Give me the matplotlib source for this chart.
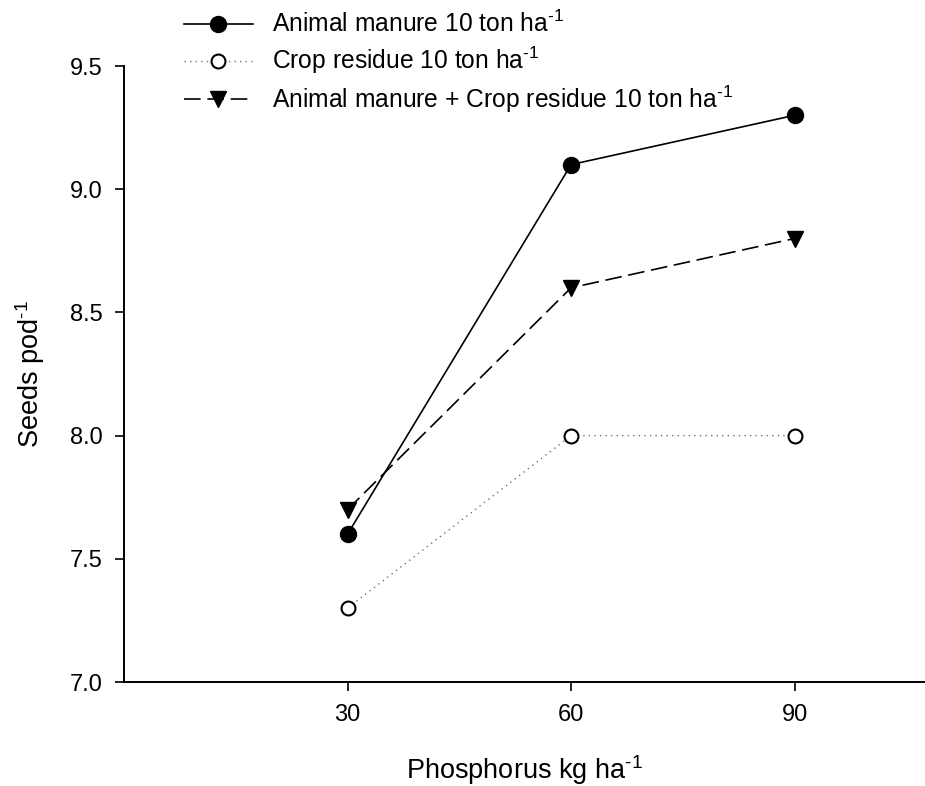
import matplotlib
matplotlib.use("Agg")
import matplotlib.pyplot as plt

plt.rcParams["font.family"] = ["Liberation Sans", "DejaVu Sans"]
plt.rcParams["mathtext.fontset"] = "custom"
plt.rcParams["mathtext.rm"] = "Liberation Sans"
plt.rcParams["mathtext.it"] = "Liberation Sans:italic"

# data
phosphorus = [30, 60, 90]
animal_manure = [7.6, 9.1, 9.3]
crop_residue = [7.3, 8.0, 8.0]
manure_plus_residue = [7.7, 8.6, 8.8]

sup = r"$^{\text{-1}}$"   # superscript with a plain hyphen, as in the original
labels = ["Animal manure 10 ton ha" + sup,
          "Crop residue 10 ton ha" + sup,
          "Animal manure + Crop residue 10 ton ha" + sup]

fig = plt.figure(figsize=(9.25, 7.86), dpi=100)
ax = fig.add_axes([0.1341, 0.1323, 0.8659, 0.7837])

ax.plot(phosphorus, animal_manure, "-o", color="black", lw=1.2,
        ms=11.5, mfc="black", mec="black", label=labels[0])
ax.plot(phosphorus, crop_residue, linestyle=(0, (1, 3)), color="0.45", lw=1.0,
        marker="o", ms=10, mfc="white", mec="black", mew=1.5, label=labels[1])
ax.plot(phosphorus, manure_plus_residue, linestyle=(0, (10, 4)), color="black",
        lw=1.2, marker="v", ms=12, mfc="black", mec="black", label=labels[2])

ax.set_xlim(0, 107.5)
ax.set_ylim(7.0, 9.5)
ax.set_xticks([30, 60, 90])
ax.set_yticks([7.0, 7.5, 8.0, 8.5, 9.0, 9.5])
ax.set_yticklabels(["7.0", "7.5", "8.0", "8.5", "9.0", "9.5"])

for side in ["top", "right"]:
    ax.spines[side].set_visible(False)
for side in ["left", "bottom"]:
    ax.spines[side].set_linewidth(1.4)
ax.tick_params(direction="out", length=6.5, width=1.2, pad=9, labelsize=17)

ax.set_xlabel("Phosphorus kg ha" + sup, fontsize=19.5, va="center")
ax.xaxis.set_label_coords(0.5, -0.143)
ax.set_ylabel("Seeds pod" + sup, fontsize=19.5, va="center")
ax.yaxis.set_label_coords(-0.117, 0.5)

fig.legend(loc="upper left", bbox_to_anchor=(184 / 925, 1 - 11 / 786),
           frameon=False, fontsize=17.7, handlelength=2.8, handletextpad=0.78,
           labelspacing=0.3, borderpad=0, borderaxespad=0)

fig.savefig("out.png", dpi=100)
